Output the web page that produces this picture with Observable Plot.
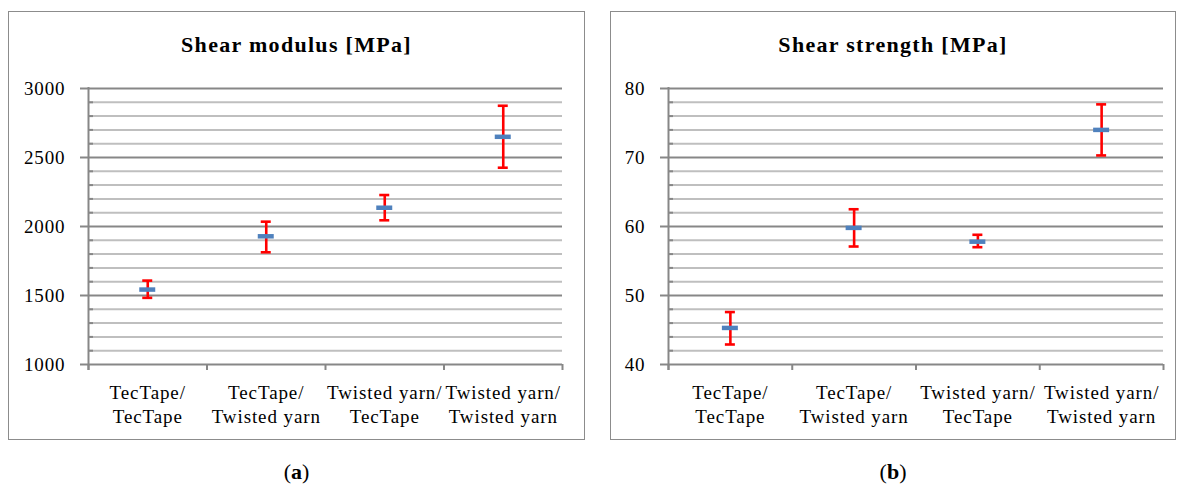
<!DOCTYPE html>
<html>
<head>
<meta charset="utf-8">
<script src="https://cdn.jsdelivr.net/npm/d3@7"></script>
<script src="https://cdn.jsdelivr.net/npm/@observablehq/plot@0.6"></script>
<style>
  html, body { margin: 0; padding: 0; background: #fff; }
  #page { position: relative; width: 1178px; height: 489px; overflow: hidden; font-family: "Liberation Serif", serif; }
  .panel { position: absolute; box-sizing: border-box; border: 1.5px solid #8c8c8c; pointer-events: none; }
  .title { position: absolute; text-align: center; font-weight: bold; font-size: 22px; letter-spacing: 1.3px; line-height: 24px; color: #000; }
  .caption { position: absolute; text-align: center; font-size: 22px; line-height: 24px; color: #000; }
  .host { position: absolute; }
</style>
</head>
<body>
<div id="page"></div>
<script>
// ---- data ----
const categories = ["TecTape/\nTecTape", "TecTape/\nTwisted yarn", "Twisted yarn/\nTecTape", "Twisted yarn/\nTwisted yarn"];

const modulusTitle = "Shear modulus [MPa]";
const modulusMean = [1543, 1929, 2136, 2650];
const modulusLow  = [1483, 1813, 2045, 2426];
const modulusHigh = [1608, 2035, 2228, 2875];
const modulusTicks = [1000, 1500, 2000, 2500, 3000];

const strengthTitle = "Shear strength [MPa]";
const strengthMean = [45.3, 59.8, 57.8, 74.0];
const strengthLow  = [42.9, 57.1, 57.0, 70.3];
const strengthHigh = [47.6, 62.5, 58.8, 77.7];
const strengthTicks = [40, 50, 60, 70, 80];

const captions = ["a", "b"];

// ---- drawing ----
const page = document.getElementById("page");
const GRID_MAJOR = "#878787";
const GRID_MINOR = "#bfbfbf";
const RED = "#ff0000";
const BLUE = "#4f81bd";

function panel({left, top, width, height, mLeft, mRight, mTop, mBottom, title, mean, low, high, ticks, caption}) {
  const rows = categories.map((c, i) => ({i, c, mean: mean[i], low: low[i], high: high[i]}));
  const ymin = ticks[0], ymax = ticks[ticks.length - 1];
  const step = (ticks[1] - ticks[0]) / 5;
  const minor = d3.range(ymin, ymax + step / 2, step).filter(v => !ticks.includes(v));
  const cx = d => d.i + 0.5;

  const chart = Plot.plot({
    width, height,
    marginLeft: mLeft, marginRight: mRight, marginTop: mTop, marginBottom: mBottom,
    x: {domain: [0, categories.length], axis: null},
    y: {domain: [ymin, ymax], axis: null},
    style: {fontFamily: "'Liberation Serif', serif", fontSize: "19px", letterSpacing: "0.9px", color: "#000", background: "transparent", overflow: "visible"},
    marks: [
      Plot.ruleY(minor, {stroke: GRID_MINOR, strokeWidth: 2}),
      Plot.ruleY(minor, {x1: () => 0, x2: () => 0, insetRight: -5, stroke: GRID_MAJOR, strokeWidth: 2}),
      Plot.ruleY(ticks, {stroke: GRID_MAJOR, strokeWidth: 2, insetLeft: -8}),
      Plot.ruleX([0], {stroke: GRID_MAJOR, strokeWidth: 2, insetTop: -1, insetBottom: -6}),
      Plot.axisX({ticks: d3.range(0, categories.length + 1), tickFormat: () => "", tickSize: 6, stroke: GRID_MAJOR, strokeWidth: 2, label: null}),
      Plot.text(ticks, {x: () => 0, y: d => d, text: d => String(d), dx: -23, textAnchor: "end", fontSize: 19, fill: "#000"}),
      Plot.text(rows, {x: cx, y: () => ymin, text: "c", dy: 39, lineAnchor: "middle", lineHeight: 1.25, fontSize: 19, fill: "#000"}),
      Plot.ruleX(rows, {x: cx, y1: "low", y2: "high", stroke: RED, strokeWidth: 2.6}),
      Plot.ruleY(rows, {x1: cx, x2: cx, y: "high", insetLeft: -5, insetRight: -5, stroke: RED, strokeWidth: 2.6}),
      Plot.ruleY(rows, {x1: cx, x2: cx, y: "low", insetLeft: -5, insetRight: -5, stroke: RED, strokeWidth: 2.6}),
      Plot.ruleY(rows, {x1: cx, x2: cx, y: "mean", insetLeft: -8, insetRight: -8, stroke: BLUE, strokeWidth: 4.5})
    ]
  });
  const host = document.createElement("div");
  host.className = "host";
  host.style.left = left + "px";
  host.style.top = top + "px";
  host.appendChild(chart);
  page.appendChild(host);

  const box = document.createElement("div");
  box.className = "panel";
  box.style.left = left + "px";
  box.style.top = top + "px";
  box.style.width = width + "px";
  box.style.height = height + "px";
  page.appendChild(box);

  const t = document.createElement("div");
  t.className = "title";
  t.textContent = title;
  t.style.left = left + "px";
  t.style.width = width + "px";
  t.style.top = "33px";
  page.appendChild(t);

  const cap = document.createElement("div");
  cap.className = "caption";
  cap.innerHTML = "(<b>" + caption + "</b>)";
  cap.style.left = left + "px";
  cap.style.width = width + "px";
  cap.style.top = "460px";
  page.appendChild(cap);
}

panel({left: 8, top: 11, width: 577, height: 429, mLeft: 80, mRight: 23, mTop: 77, mBottom: 76,
  title: modulusTitle, mean: modulusMean, low: modulusLow, high: modulusHigh, ticks: modulusTicks, caption: captions[0]});
panel({left: 610, top: 11, width: 566, height: 429, mLeft: 58, mRight: 13, mTop: 77, mBottom: 76,
  title: strengthTitle, mean: strengthMean, low: strengthLow, high: strengthHigh, ticks: strengthTicks, caption: captions[1]});
</script>
</body>
</html>
